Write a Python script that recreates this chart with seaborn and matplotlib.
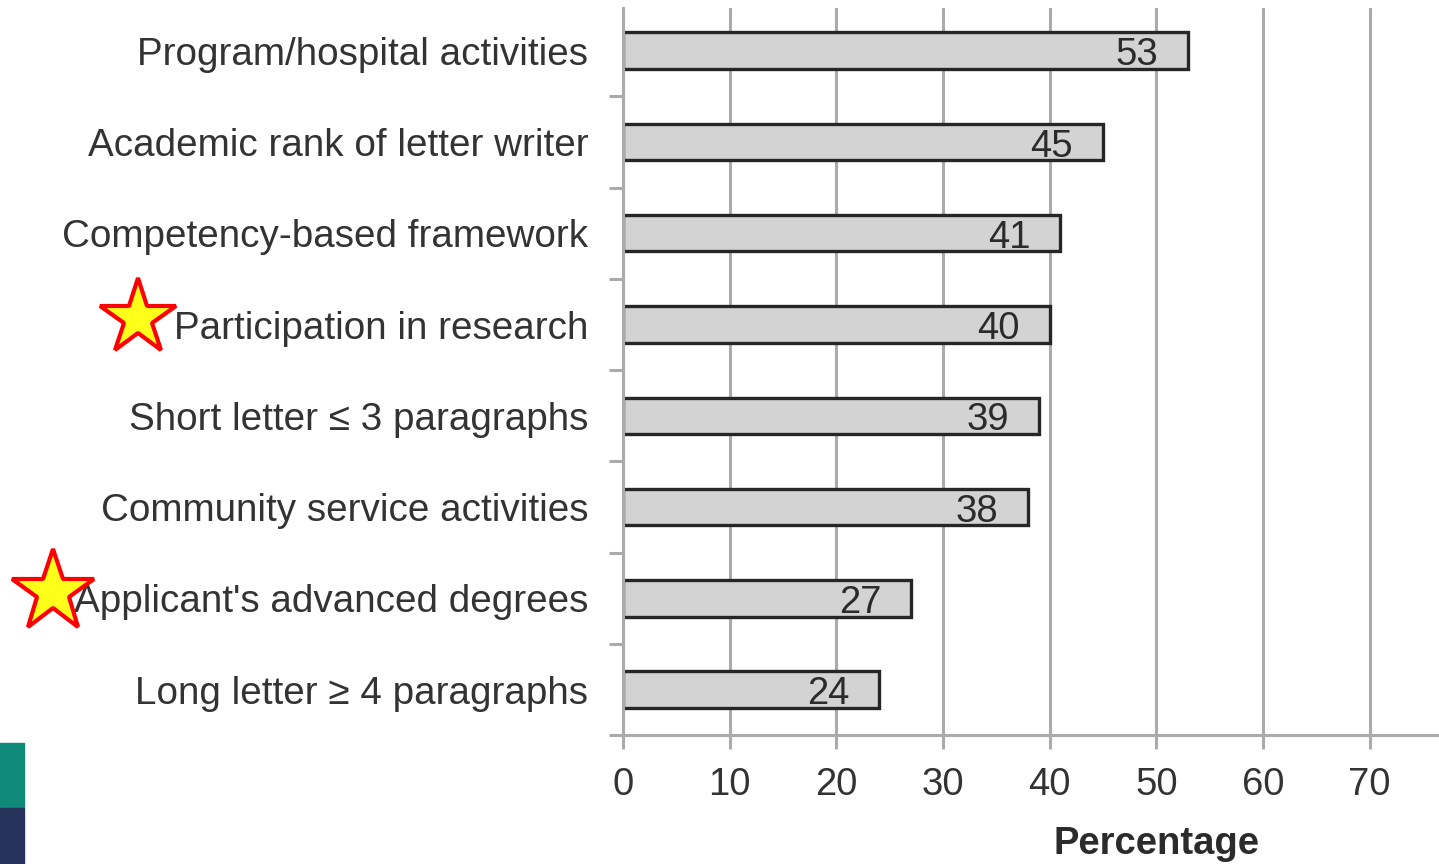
import matplotlib
matplotlib.use("Agg")
import matplotlib.pyplot as plt
import matplotlib.patches as mpatches
import matplotlib.transforms as mtransforms
import seaborn as sns
import pandas as pd
import numpy as np

categories = [
    "Program/hospital activities",
    "Academic rank of letter writer",
    "Competency-based framework",
    "Participation in research",
    "Short letter \u2264 3 paragraphs",
    "Community service activities",
    "Applicant's advanced degrees",
    "Long letter \u2265 4 paragraphs",
]
values = [53, 45, 41, 40, 39, 38, 27, 24]
starred = ["Participation in research", "Applicant's advanced degrees"]
x_ticks = [0, 10, 20, 30, 40, 50, 60, 70]

sns.set_theme(style="white")
plt.rcParams["font.family"] = ["Liberation Sans", "DejaVu Sans"]

df = pd.DataFrame({"label": categories, "pct": values})

fig = plt.figure(figsize=(14.39, 8.64), dpi=100)
ax = fig.add_axes([0.433, 0.149, 0.567, 0.842])

sns.barplot(data=df, y="label", x="pct", orient="h", color="#d3d3d3",
            edgecolor="#262626", linewidth=2.4, width=0.4, saturation=1, ax=ax)

ax.set_xlim(0, 76.5)
ax.set_ylim(len(categories) - 0.5, -0.47)
ax.set_xticks(x_ticks)
ax.xaxis.grid(True, color="#ababab", linewidth=2.2)
ax.set_axisbelow(True)

for s in ["top", "right"]:
    ax.spines[s].set_visible(False)
for s in ["left", "bottom"]:
    ax.spines[s].set_color("#ababab")
    ax.spines[s].set_linewidth(2.2)

ax.tick_params(axis="x", length=10, width=2.2, color="#ababab", labelsize=27.5,
               labelcolor="#333333", pad=13, bottom=True)
ax.tick_params(axis="y", which="major", length=0, labelsize=27.8,
               labelcolor="#333333", pad=25)
ax.set_yticks(np.arange(len(categories)) + 0.5, minor=True)
ax.tick_params(axis="y", which="minor", length=10, width=2.2, color="#ababab", left=True)

for i, v in enumerate(values):
    ax.text(v - 2.8, i + 0.05, str(v), ha="right", va="center", fontsize=27.5, color="#2b2b2b")

ax.set_ylabel("")
ax.set_xlabel("Percentage", fontsize=27.5, fontweight="bold", color="#2b2b2b")
ax.xaxis.set_label_coords(0.654, -0.125)

# stars next to highlighted labels
trans = mtransforms.blended_transform_factory(fig.transFigure, ax.transData)
star_x = {3: 0.096, 6: 0.037}
star_size = {3: 57, 6: 62}
for name in starred:
    i = categories.index(name)
    ax.plot([star_x[i]], [i - 0.07], marker="*", markersize=star_size[i], markerfacecolor="#ffff1a",
            markeredgecolor="#ff0000", markeredgewidth=3, transform=trans, clip_on=False)

# decorative corner blocks
fig.add_artist(mpatches.Rectangle((0, 56 / 864), 24 / 1439, 65 / 864, transform=fig.transFigure,
                                  color="#0f8a7a", zorder=0))
fig.add_artist(mpatches.Rectangle((0, 0), 24 / 1439, 56 / 864, transform=fig.transFigure,
                                  color="#27335a", zorder=0))

fig.savefig("out.png", dpi=100, facecolor="white")
